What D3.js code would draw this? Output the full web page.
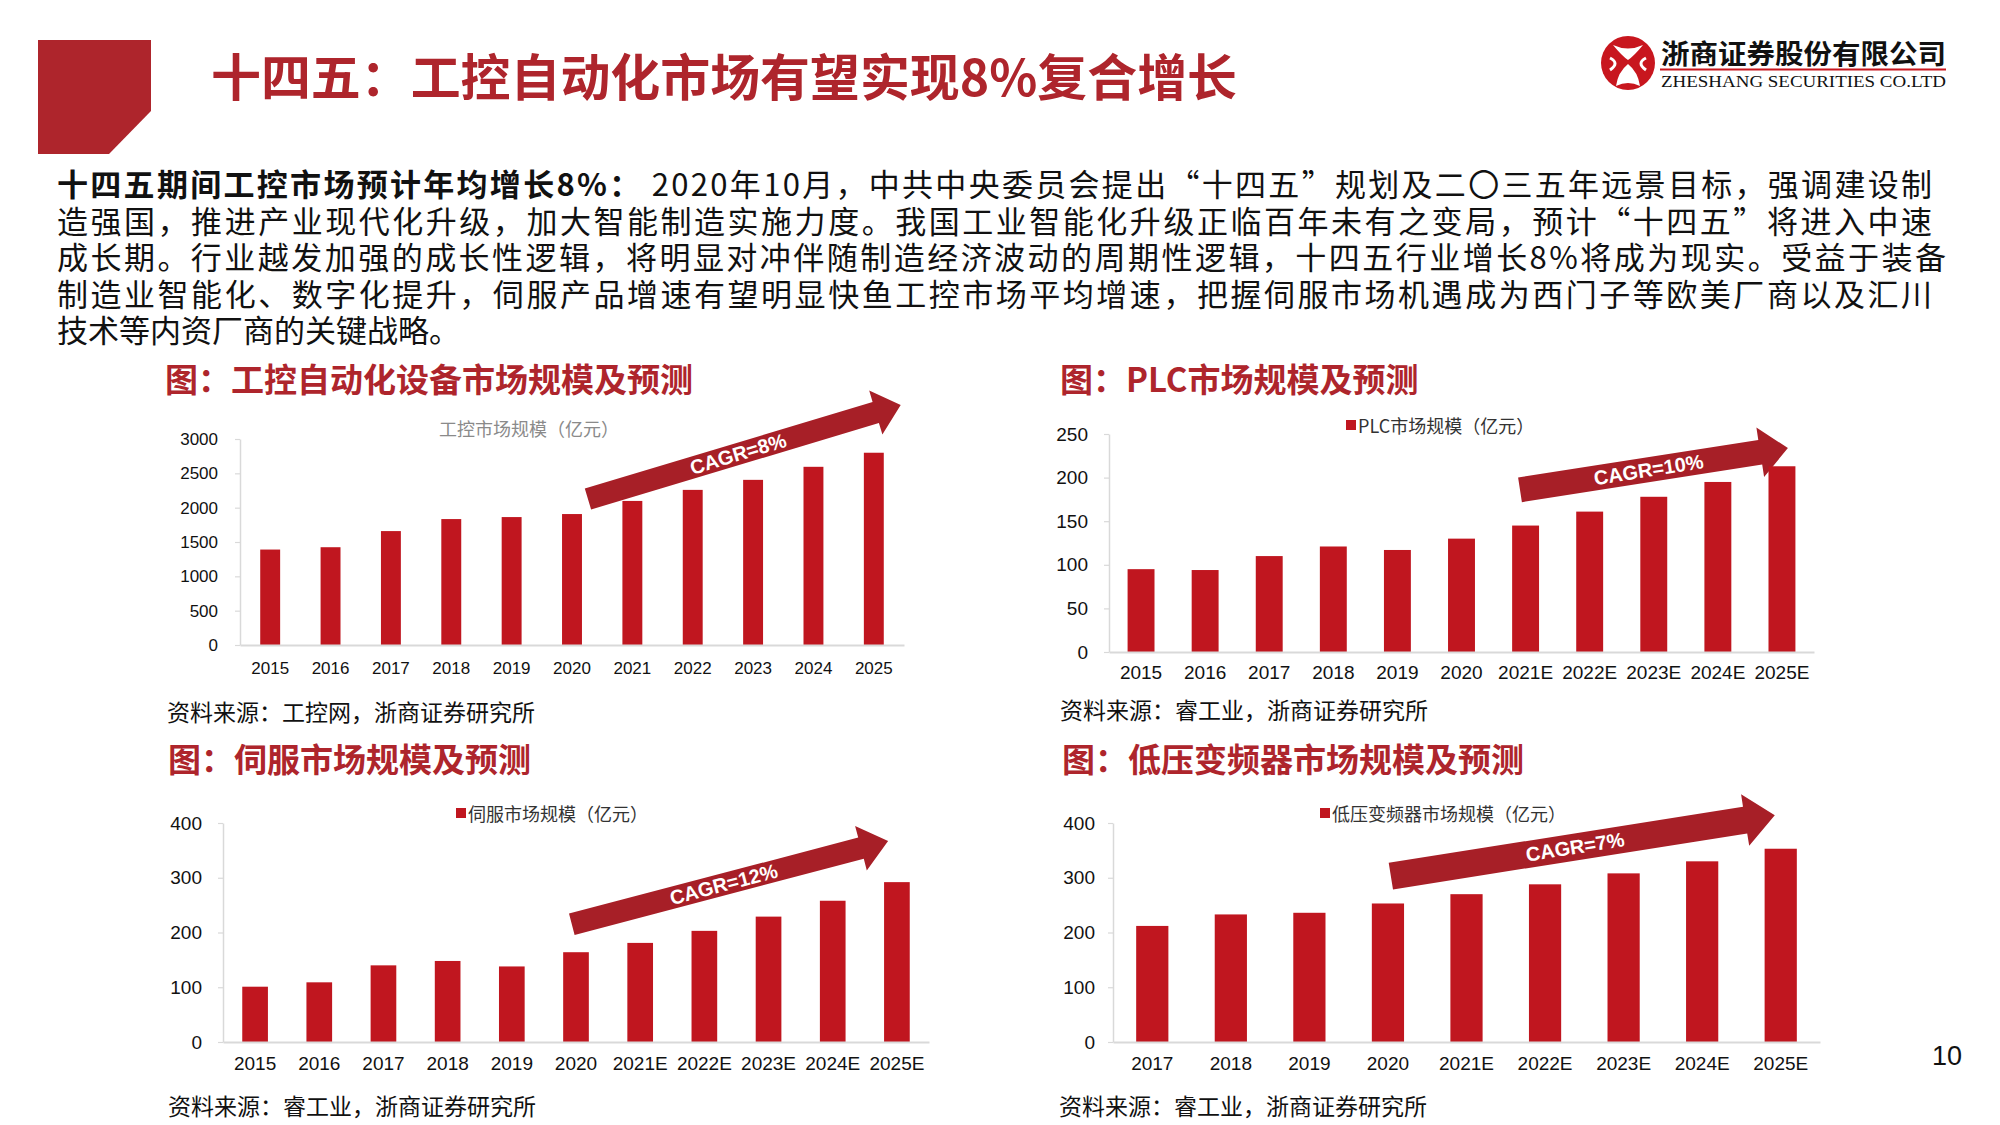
<!DOCTYPE html>
<html>
<head>
<meta charset="utf-8">
<script src="https://cdn.jsdelivr.net/npm/d3@7"></script>
<style>
  body { margin: 0; background: #fff; }
  svg { display: block; }
</style>
</head>
<body>
<div id="slide"></div>
<script>
// ---- data ----
const ctrlYears = ['2015', '2016', '2017', '2018', '2019', '2020', '2021', '2022', '2023', '2024', '2025'];
const ctrlValues = [1390, 1424, 1659, 1834, 1863, 1907, 2098, 2259, 2405, 2595, 2800];
const ctrlTicks = [0, 500, 1000, 1500, 2000, 2500, 3000];

const plcYears = ['2015', '2016', '2017', '2018', '2019', '2020', '2021E', '2022E', '2023E', '2024E', '2025E'];
const plcValues = [95, 94, 110, 121, 117, 130, 145, 161, 178, 195, 213];
const plcTicks = [0, 50, 100, 150, 200, 250];

const servoYears = ['2015', '2016', '2017', '2018', '2019', '2020', '2021E', '2022E', '2023E', '2024E', '2025E'];
const servoValues = [101, 109, 140, 148, 138, 164, 181, 203, 229, 258, 292];
const servoTicks = [0, 100, 200, 300, 400];

const vfdYears = ['2017', '2018', '2019', '2020', '2021E', '2022E', '2023E', '2024E', '2025E'];
const vfdValues = [212, 233, 236, 253, 270, 288, 308, 330, 353];
const vfdTicks = [0, 100, 200, 300, 400];

const cagrLabels = ['CAGR=8%', 'CAGR=10%', 'CAGR=12%', 'CAGR=7%'];

const pageTitle = '十四五：工控自动化市场有望实现8%复合增长';
const bodyLead = '十四五期间工控市场预计年均增长8%：';
const bodyLines = [
  ' 2020年10月，中共中央委员会提出“十四五”规划及二〇三五年远景目标，强调建设制',
  '造强国，推进产业现代化升级，加大智能制造实施力度。我国工业智能化升级正临百年未有之变局，预计“十四五”将进入中速',
  '成长期。行业越发加强的成长性逻辑，将明显对冲伴随制造经济波动的周期性逻辑，十四五行业增长8%将成为现实。受益于装备',
  '制造业智能化、数字化提升，伺服产品增速有望明显快鱼工控市场平均增速，把握伺服市场机遇成为西门子等欧美厂商以及汇川',
  '技术等内资厂商的关键战略。'
];

const CJK = '"Noto Sans CJK SC", "Noto Sans", sans-serif';
const NUM = '"Liberation Sans", Arial, sans-serif';
const RED = '#AE252C';
const BAR = '#C0161F';
const ARROW = '#A71F27';
const AXIS = '#D9D9D9';

const svg = d3.select('#slide').append('svg')
  .attr('width', 2000)
  .attr('height', 1125)
  .attr('viewBox', '0 0 2000 1125');

// header block + title
svg.append('path')
  .attr('d', 'M38,40 L151,40 L151,111 L109,154 L38,154 Z')
  .attr('fill', RED);

svg.append('text')
  .attr('x', 211).attr('y', 74)
  .attr('dominant-baseline', 'central')
  .attr('font-family', CJK).attr('font-weight', 700)
  .attr('font-size', 50).attr('fill', RED)
  .attr('textLength', 1026).attr('lengthAdjust', 'spacingAndGlyphs')
  .text(pageTitle);

// logo
const logo = svg.append('g');
logo.append('circle').attr('cx', 1628).attr('cy', 63).attr('r', 27).attr('fill', '#C8161E');
logo.append('path')
  .attr('d', 'M1613,45 Q1628,52 1643,45 Q1634,56 1628,60 Q1622,56 1613,45 Z M1628,64 Q1638,72 1640,86 Q1628,80 1616,86 Q1618,72 1628,64 Z')
  .attr('fill', '#fff');
logo.append('path')
  .attr('d', 'M1610,58 Q1620,63 1610,70 M1646,58 Q1636,63 1646,70')
  .attr('fill', 'none').attr('stroke', '#fff').attr('stroke-width', 3);
logo.append('text')
  .attr('x', 1661).attr('y', 52)
  .attr('dominant-baseline', 'central')
  .attr('font-family', CJK).attr('font-weight', 700)
  .attr('font-size', 27).attr('fill', '#111')
  .attr('textLength', 285).attr('lengthAdjust', 'spacingAndGlyphs')
  .text('浙商证券股份有限公司');
logo.append('line')
  .attr('x1', 1660).attr('x2', 1946).attr('y1', 69.5).attr('y2', 69.5)
  .attr('stroke', '#C8161E').attr('stroke-width', 2);
logo.append('text')
  .attr('x', 1661).attr('y', 87)
  .attr('font-family', '"Liberation Serif", "DejaVu Serif", serif')
  .attr('font-size', 16).attr('fill', '#111')
  .attr('textLength', 285).attr('lengthAdjust', 'spacingAndGlyphs')
  .text('ZHESHANG SECURITIES CO.LTD');

// body paragraph
const lineY = [182, 218.5, 255, 291.5, 328];
const lineEnd = [1932, 1932, 1946, 1932, null];
bodyLines.forEach((s, i) => {
  const t = svg.append('text')
    .attr('x', 57).attr('y', lineY[i])
    .attr('dominant-baseline', 'central')
    .attr('font-family', CJK).attr('font-size', 31).attr('fill', '#111')
    .attr('xml:space', 'preserve');
  if (lineEnd[i]) t.attr('textLength', lineEnd[i] - 57).attr('lengthAdjust', 'spacing');
  if (i === 0) t.append('tspan').attr('font-weight', 700).text(bodyLead);
  t.append('tspan').text(s);
});

// ---- the four panels ----
const charts = [
  {
    title: '图：工控自动化设备市场规模及预测', titleX: 165, titleY: 378,
    legend: '工控市场规模（亿元）', legendX: 529, legendY: 428, legendBox: false,
    cats: ctrlYears, vals: ctrlValues, ticks: ctrlTicks, max: 3000,
    left: 240, right: 904, base: 645, top: 439, pad: 0.67,
    fs: 17, yPad: 17, xPad: 17,
    source: '资料来源：工控网，浙商证券研究所', srcX: 167, srcY: 711,
    arrow: { fx0: 0.524, v0: 2126, fx1: 0.995, v1: 3495, shaft: 11, head: 23, len: 26 },
    cagr: cagrLabels[0]
  },
  {
    title: '图：PLC市场规模及预测', titleX: 1060, titleY: 378,
    legend: 'PLC市场规模（亿元）', legendX: 1346, legendY: 425, legendBox: true,
    cats: plcYears, vals: plcValues, ticks: plcTicks, max: 250,
    left: 1109, right: 1814, base: 652, top: 434, pad: 0.58,
    fs: 19, yPad: 16, xPad: 14,
    source: '资料来源：睿工业，浙商证券研究所', srcX: 1060, srcY: 709,
    arrow: { fx0: 0.583, v0: 186, fx1: 0.963, v1: 234, shaft: 12.5, head: 25, len: 28 },
    cagr: cagrLabels[1]
  },
  {
    title: '图：伺服市场规模及预测', titleX: 168, titleY: 758,
    legend: '伺服市场规模（亿元）', legendX: 456, legendY: 813, legendBox: true,
    cats: servoYears, vals: servoValues, ticks: servoTicks, max: 400,
    left: 223, right: 929, base: 1042, top: 823, pad: 0.6,
    fs: 19, yPad: 16, xPad: 15,
    source: '资料来源：睿工业，浙商证券研究所', srcX: 168, srcY: 1105,
    arrow: { fx0: 0.494, v0: 215, fx1: 0.942, v1: 367, shaft: 11, head: 23, len: 28 },
    cagr: cagrLabels[2]
  },
  {
    title: '图：低压变频器市场规模及预测', titleX: 1062, titleY: 758,
    legend: '低压变频器市场规模（亿元）', legendX: 1320, legendY: 813, legendBox: true,
    cats: vfdYears, vals: vfdValues, ticks: vfdTicks, max: 400,
    left: 1113, right: 1820, base: 1042, top: 823, pad: 0.59,
    fs: 19, yPad: 13, xPad: 15,
    source: '资料来源：睿工业，浙商证券研究所', srcX: 1059, srcY: 1105,
    arrow: { fx0: 0.393, v0: 303, fx1: 0.936, v1: 414, shaft: 13.5, head: 26, len: 30 },
    cagr: cagrLabels[3]
  }
];

function arrowPath(t, p, s, h, len) {
  const dx = p[0] - t[0], dy = p[1] - t[1];
  const d = Math.hypot(dx, dy);
  const ux = dx / d, uy = dy / d;
  const nx = -uy, ny = ux;
  const b = [p[0] - ux * len, p[1] - uy * len];
  const pts = [
    [t[0] + nx * s, t[1] + ny * s],
    [b[0] + nx * s, b[1] + ny * s],
    [b[0] + nx * h, b[1] + ny * h],
    p,
    [b[0] - nx * h, b[1] - ny * h],
    [b[0] - nx * s, b[1] - ny * s],
    [t[0] - nx * s, t[1] - ny * s]
  ];
  return 'M' + pts.map(q => q[0].toFixed(1) + ',' + q[1].toFixed(1)).join('L') + 'Z';
}

function drawChart(c) {
  const g = svg.append('g');
  const x = d3.scaleBand().domain(c.cats).range([c.left, c.right])
    .paddingInner(c.pad).paddingOuter(c.pad / 2);
  const y = d3.scaleLinear().domain([0, c.max]).range([c.base, c.top]);

  g.append('text')
    .attr('x', c.titleX).attr('y', c.titleY)
    .attr('dominant-baseline', 'central')
    .attr('font-family', CJK).attr('font-weight', 700)
    .attr('font-size', 33).attr('fill', RED)
    .text(c.title);

  // legend
  if (c.legendBox) {
    g.append('rect').attr('x', c.legendX).attr('y', c.legendY - 5)
      .attr('width', 10).attr('height', 10).attr('fill', BAR);
    g.append('text').attr('x', c.legendX + 12).attr('y', c.legendY)
      .attr('dominant-baseline', 'central')
      .attr('font-family', CJK).attr('font-size', 18).attr('fill', '#333')
      .text(c.legend);
  } else {
    g.append('text').attr('x', c.legendX).attr('y', c.legendY)
      .attr('text-anchor', 'middle').attr('dominant-baseline', 'central')
      .attr('font-family', CJK).attr('font-size', 18).attr('fill', '#8a8a8a')
      .text(c.legend);
  }

  // y axis
  const ya = g.append('g').attr('transform', `translate(${c.left},0)`)
    .call(d3.axisLeft(y).tickValues(c.ticks).tickFormat(d3.format('d'))
      .tickSize(5).tickSizeOuter(0).tickPadding(c.yPad));
  ya.select('.domain').attr('stroke', AXIS).attr('stroke-width', 1.5);
  ya.selectAll('.tick line').attr('stroke', AXIS).attr('stroke-width', 1.2);
  ya.selectAll('.tick text')
    .attr('font-family', NUM).attr('font-size', c.fs).attr('fill', '#111');

  // arrow annotation (behind bars)
  const a = c.arrow;
  const w = c.right - c.left;
  const t0 = [c.left + a.fx0 * w, y(a.v0)];
  const t1 = [c.left + a.fx1 * w, y(a.v1)];
  g.append('path').attr('d', arrowPath(t0, t1, a.shaft, a.head, a.len)).attr('fill', ARROW);

  // bars
  g.selectAll('rect.bar')
    .data(c.cats.map((k, i) => ({ k: k, v: c.vals[i] })))
    .join('rect')
    .attr('class', 'bar')
    .attr('x', d => x(d.k))
    .attr('width', x.bandwidth())
    .attr('y', d => y(d.v))
    .attr('height', d => y(0) - y(d.v))
    .attr('fill', BAR);

  // x axis
  const xa = g.append('g').attr('transform', `translate(0,${c.base})`)
    .call(d3.axisBottom(x).tickSize(0).tickSizeOuter(0).tickPadding(c.xPad));
  xa.select('.domain').attr('stroke', AXIS).attr('stroke-width', 2);
  xa.selectAll('.tick text')
    .attr('font-family', NUM).attr('font-size', c.fs).attr('fill', '#111');

  // CAGR label along the arrow
  const ang = Math.atan2(t1[1] - t0[1], t1[0] - t0[0]) * 180 / Math.PI;
  const mx = t0[0] + (t1[0] - t0[0]) * 0.48;
  const my = t0[1] + (t1[1] - t0[1]) * 0.48;
  g.append('text')
    .attr('transform', `translate(${mx},${my}) rotate(${ang})`)
    .attr('text-anchor', 'middle').attr('dominant-baseline', 'central')
    .attr('font-family', NUM).attr('font-weight', 700)
    .attr('font-size', 20).attr('fill', '#fff')
    .text(c.cagr);

  // source
  g.append('text')
    .attr('x', c.srcX).attr('y', c.srcY)
    .attr('dominant-baseline', 'central')
    .attr('font-family', CJK).attr('font-size', 23).attr('fill', '#111')
    .text(c.source);
}

charts.forEach(drawChart);

// page number
svg.append('text')
  .attr('x', 1947).attr('y', 1056)
  .attr('text-anchor', 'middle').attr('dominant-baseline', 'central')
  .attr('font-family', NUM).attr('font-size', 27).attr('fill', '#111')
  .text('10');
</script>
</body>
</html>
